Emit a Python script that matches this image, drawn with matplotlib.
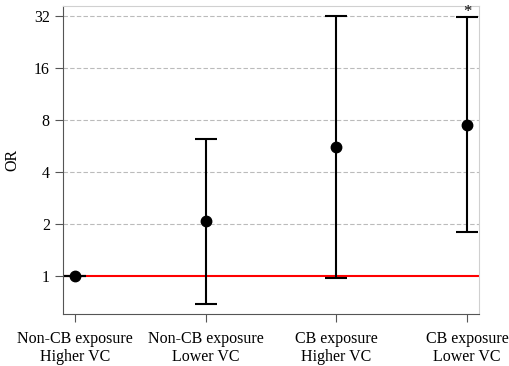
import numpy as np
import matplotlib.pyplot as plt

groups = ['Non-CB exposure\nHigher VC', 'Non-CB exposure\nLower VC',
          'CB exposure\nHigher VC', 'CB exposure\nLower VC']
odds = [1.0, 2.08, 5.58, 7.48]
lower = [1.0, 0.69, 0.97, 1.80]
upper = [1.0, 6.2, 32.0, 31.6]
yticks = [1, 2, 4, 8, 16, 32]

plt.rcParams['font.family'] = ['Liberation Serif', 'DejaVu Serif']

fig = plt.figure(figsize=(5.1, 3.66), dpi=100)
ax = fig.add_axes([63/510, 1 - 314/366, 416/510, 308/366])

x = np.arange(len(groups))
odds = np.array(odds)
err = np.array([odds - np.array(lower), np.array(upper) - odds])

ax.axhline(1, color='#ff0000', lw=1.5, zorder=2)
ax.errorbar(x, odds, yerr=err, fmt='o', color='black', ms=7.5,
            elinewidth=1.5, capsize=8, capthick=1.5, zorder=3)
# significance marker above last interval
ax.annotate('*', (x[3], upper[3]), xytext=(0, 0.5), textcoords='offset points',
            ha='center', va='baseline', fontsize=12, annotation_clip=False)

ax.set_yscale('log', base=2)
ax.set_ylim(0.60, 36.5)
ax.set_xlim(-0.09, 3.09)
ax.set_yticks(yticks)
ax.set_yticklabels([str(t) for t in yticks])
ax.minorticks_off()
ax.set_xticks(x)
ax.set_xticklabels(groups)
ax.tick_params(labelsize=11.5, color='#555555', length=6)
ax.tick_params(axis='x', pad=6)
ax.set_ylabel('OR', fontsize=11.5, labelpad=10)

for t in [2, 4, 8, 16, 32]:
    ax.axhline(t, color='#bbbbbb', lw=0.8, ls=(0, (4, 2)), zorder=1)

for s in ['left', 'bottom']:
    ax.spines[s].set_color('#555555')
for s in ['top', 'right']:
    ax.spines[s].set_color('#d0d0d0')

fig.savefig('out.png', dpi=100)
